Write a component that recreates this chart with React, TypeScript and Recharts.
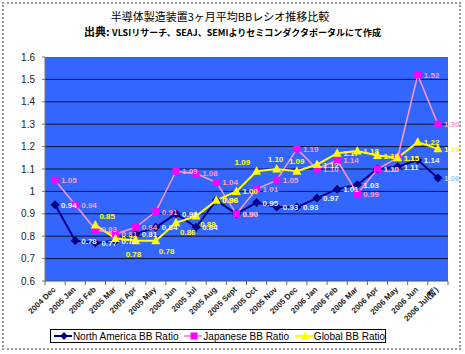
import React from "react";
import { LineChart, Line, XAxis, YAxis, CartesianGrid, Legend, LabelList } from "recharts";

// 3ヶ月平均BBレシオ (2004 Dec - 2006 Jul)
const months = [
  "2004 Dec", "2005 Jan", "2005 Feb", "2005 Mar", "2005 Apr", "2005 May",
  "2005 Jun", "2005 Jul", "2005 Aug", "2005 Sept", "2005 Oct", "2005 Nov",
  "2005 Dec", "2006 Jan", "2006 Feb", "2006 Mar", "2006 Apr", "2006 May",
  "2006 Jun", "2006 Jul(暫)",
];
const northAmerica = [0.94, 0.78, 0.77, 0.78, 0.81, 0.84, 0.9, 0.84, 0.96, 0.9, 0.95, 0.93, 0.93, 0.97, 1.01, 1.03, 1.1, 1.11, 1.14, 1.06];
const japan = [1.05, 0.94, 0.83, 0.81, 0.84, 0.91, 1.09, 1.08, 1.04, 0.9, 1.01, 1.05, 1.19, 1.1, 1.14, 0.99, 1.1, 1.15, 1.52, 1.3];
const globalRatio = [null, null, 0.85, 0.79, 0.78, 0.78, 0.86, 0.89, 0.96, 1.0, 1.09, 1.1, 1.09, 1.12, 1.17, 1.18, 1.16, 1.15, 1.22, 1.19];
const yTicks = [0.6, 0.7, 0.8, 0.9, 1.0, 1.1, 1.2, 1.3, 1.4, 1.5, 1.6];

const data = months.map((m, i) => ({
  month: m,
  na: northAmerica[i],
  jp: japan[i],
  gl: globalRatio[i],
}));

const W = 465;
const H = 354;
const PLOT_LEFT = 45;
const PLOT_RIGHT = 448;
const HALF = (PLOT_RIGHT - PLOT_LEFT) / months.length / 2;
const FONT = "'Liberation Sans', Arial, sans-serif";
const JFONT = "'Noto Sans CJK JP', sans-serif";

// label nudges for the global series (Excel labels were dragged around)
const glShift: Record<number, [number, number]> = {
  2: [4, -6],
  4: [-10, 16],
  5: [3, 13],
  6: [4, 12],
  7: [4, 11],
  10: [-22, -6],
  11: [-9, -7],
  12: [-8, -7],
};

const makeLabel =
  (color: string, shift: Record<number, [number, number]> = {}, lastColor?: string) =>
  (p: any) => {
    const { x, y, value, index } = p;
    if (value == null || x == null) return null;
    const [dx, dy] = shift[index] ?? [6, 3];
    const fill = lastColor && index === months.length - 1 ? lastColor : color;
    return (
      <text x={x + dx} y={y + dy} fill={fill} fontSize={8} fontWeight="bold" fontFamily={FONT}>
        {Number(value).toFixed(2)}
      </text>
    );
  };

const Diamond = (p: any) => {
  const { cx, cy } = p;
  if (cy == null) return <g />;
  return <path d={`M${cx},${cy - 4.5}L${cx + 4.5},${cy}L${cx},${cy + 4.5}L${cx - 4.5},${cy}Z`} fill="#000080" />;
};

const Square = (p: any) => {
  const { cx, cy } = p;
  if (cy == null) return <g />;
  return <rect x={cx - 3.5} y={cy - 3.5} width={7} height={7} fill="#FF00FF" />;
};

const Triangle = (p: any) => {
  const { cx, cy } = p;
  if (cy == null) return <g />;
  return <path d={`M${cx},${cy - 5}L${cx + 4.5},${cy + 3.5}L${cx - 4.5},${cy + 3.5}Z`} fill="#FFFF00" />;
};

const MonthTick = (p: any) => {
  const { x, y, payload, index } = p;
  const tx = x + 1;
  const ty = y + 9;
  return (
    <g>
      <line x1={x - HALF} y1={y} x2={x - HALF} y2={y + 4} stroke="#666" />
      {index === months.length - 1 && <line x1={x + HALF} y1={y} x2={x + HALF} y2={y + 4} stroke="#666" />}
      <text
        x={tx}
        y={ty}
        transform={`rotate(-45 ${tx} ${ty})`}
        textAnchor="end"
        fontSize={8}
        fontWeight="bold"
        fontFamily={FONT}
        fill="#222"
      >
        {payload.value}
      </text>
    </g>
  );
};

const icon = (color: string, marker: React.ReactNode) => (
  <svg width={20} height={10} style={{ marginRight: 1 }}>
    <line x1={0} y1={5} x2={20} y2={5} stroke={color} strokeWidth={2} />
    {marker}
  </svg>
);

const LegendBox = () => (
  <div
    style={{
      border: "1px solid #000",
      height: 14,
      width: 336,
      boxSizing: "border-box",
      display: "flex",
      alignItems: "center",
      fontFamily: FONT,
      fontSize: 10,
      color: "#000",
      paddingLeft: 3,
      whiteSpace: "nowrap",
      background: "#fff",
    }}
  >
    {icon("#000080", <path d="M10,1L14,5L10,9L6,5Z" fill="#000080" />)}
    <span style={{ marginRight: 6 }}>North America BB Ratio</span>
    {icon("#FF99CC", <rect x={6.5} y={1.5} width={7} height={7} fill="#FF00FF" />)}
    <span style={{ marginRight: 6 }}>Japanese BB Ratio</span>
    {icon("#FFFF00", <path d="M10,0.5L14.5,9L5.5,9Z" fill="#FFFF00" />)}
    <span>Global BB Ratio</span>
  </div>
);

export default function App() {
  return (
    <div style={{ position: "relative", width: W, height: H, background: "#fff" }}>
      <style>{"body{margin:0}"}</style>
      <div
        style={{
          position: "absolute",
          left: 2,
          top: 2,
          width: W - 6,
          height: H - 6,
          border: "2px dotted #999",
          boxSizing: "border-box",
        }}
      />
      <div
        style={{
          position: "absolute",
          left: 0,
          top: 9,
          width: 440,
          textAlign: "center",
          fontFamily: JFONT,
          fontSize: 11,
          color: "#000",
          lineHeight: "14px",
        }}
      >
        半導体製造装置3ヶ月平均BBレシオ推移比較
      </div>
      <div
        style={{
          position: "absolute",
          left: 0,
          top: 24,
          width: W,
          textAlign: "center",
          fontFamily: JFONT,
          fontSize: 9,
          fontWeight: "bold",
          color: "#000",
          lineHeight: "14px",
        }}
      >
        <span style={{ fontSize: 11 }}>出典: </span>VLSIリサーチ、SEAJ、SEMIよりセミコンダクタポータルにて作成
      </div>
      <div style={{ position: "absolute", left: 0, top: 0 }}>
        <LineChart width={W} height={H} data={data} margin={{ top: 57, right: W - PLOT_RIGHT, bottom: 0, left: 0 }}>
          <CartesianGrid
            horizontal
            vertical={false}
            fill="#3366FF"
            fillOpacity={1}
            stroke="#111133"
            strokeWidth={1}
            horizontalValues={[0.7, 0.8, 0.9, 1.0, 1.1, 1.2, 1.3, 1.4, 1.5]}
          />
          <XAxis
            dataKey="month"
            interval={0}
            height={73}
            padding={{ left: HALF, right: HALF }}
            tickSize={0}
            tickMargin={0}
            tickLine={false}
            axisLine={{ stroke: "#555" }}
            tick={<MonthTick />}
          />
          <XAxis xAxisId="top" orientation="top" height={0} tick={false} tickLine={false} axisLine={{ stroke: "#aaa", strokeDasharray: "1 1" }} />
          <YAxis
            domain={[0.6, 1.6]}
            ticks={yTicks}
            interval={0}
            width={PLOT_LEFT}
            tickSize={3}
            tickMargin={7}
            axisLine={{ stroke: "#777" }}
            tickLine={{ stroke: "#777" }}
            tick={{ fontSize: 10, fontFamily: FONT, fill: "#222" }}
            tickFormatter={(v: number) => String(Number(v.toFixed(1)))}
          />
          <YAxis yAxisId="right" orientation="right" width={0} domain={[0.6, 1.6]} tick={false} tickLine={false} axisLine={{ stroke: "#999" }} />
          <Legend
            layout="horizontal"
            verticalAlign="middle"
            align="center"
            wrapperStyle={{ left: 50, top: 329, width: 336 }}
            content={() => <LegendBox />}
          />
          <Line
            dataKey="na"
            stroke="#000080"
            strokeWidth={2}
            dot={<Diamond />}
            activeDot={false}
            isAnimationActive={false}
          >
            <LabelList dataKey="na" content={makeLabel("#EEF4FF", {}, "#99CCFF")} />
          </Line>
          <Line
            dataKey="jp"
            stroke="#FF99CC"
            strokeWidth={1.5}
            dot={<Square />}
            activeDot={false}
            isAnimationActive={false}
          >
            <LabelList dataKey="jp" content={makeLabel("#FF99CC")} />
          </Line>
          <Line
            dataKey="gl"
            stroke="#FFFF00"
            strokeWidth={2}
            dot={<Triangle />}
            activeDot={false}
            isAnimationActive={false}
          >
            <LabelList dataKey="gl" content={makeLabel("#FFFF00", glShift)} />
          </Line>
        </LineChart>
      </div>
    </div>
  );
}
